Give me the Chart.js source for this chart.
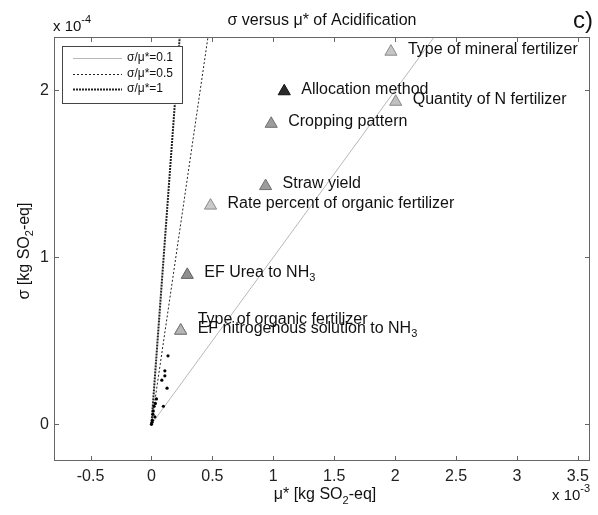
<!DOCTYPE html>
<html><head><meta charset="utf-8">
<script src="https://cdn.jsdelivr.net/npm/chart.js@4/dist/chart.umd.min.js"></script>
<style>html,body{margin:0;padding:0;background:#fff;} #wrap{width:598px;height:515px;}</style>
</head><body><div id="wrap"><canvas id="c" width="598" height="515"></canvas></div>
<script>
// ---- text ----
const TITLE = 'σ versus μ* of Acidification';
const PANEL = 'c)';
const X_TITLE = 'μ* [kg SO{_2}-eq]';
const Y_TITLE = 'σ [kg SO{_2}-eq]';
const X_EXP = 'x 10{^-3}';
const Y_EXP = 'x 10{^-4}';
// ---- axes (x in 1e-3, y in 1e-4 kg SO2-eq) ----
const X_TICKS = [-0.5, 0, 0.5, 1, 1.5, 2, 2.5, 3, 3.5];
const Y_TICKS = [0, 1, 2];
const X_RANGE = [-0.8, 3.6];
const Y_RANGE = [-0.22, 2.32];
// ---- labelled factors ----
const factorNames = [
  'Type of mineral fertilizer',
  'Allocation method',
  'Quantity of N fertilizer',
  'Cropping pattern',
  'Straw yield',
  'Rate percent of organic fertilizer',
  'EF Urea to NH{_3}',
  'Type of organic fertilizer',
  'EF nitrogenous solution to NH{_3}'
];
const factorMu    = [1.966, 1.090, 2.005, 0.983, 0.937, 0.485, 0.294, 0.240, 0.240];
const factorSigma = [2.232, 1.995, 1.932, 1.800, 1.427, 1.310, 0.895, 0.561, 0.561];
// ---- unlabelled factors (small dots) ----
const otherMu    = [0.136, 0.110, 0.110, 0.085, 0.128, 0.041, 0.022, 0.098, 0.028, 0.008, 0.000, 0.015, 0.032, 0.012, 0.005];
const otherSigma = [0.410, 0.320, 0.290, 0.264, 0.216, 0.152, 0.108, 0.108, 0.044, 0.024, 0.000, 0.080, 0.125, 0.060, 0.012];
// ---- reference ratio lines ----
const ratioValues = [0.1, 0.5, 1];
const ratioLabels = ['σ/μ*=0.1', 'σ/μ*=0.5', 'σ/μ*=1'];

// ---- styles ----
const FONT = '"Liberation Sans", Arial, sans-serif';
const factorFill = ['#c6c6c6', '#2a2a2a', '#c0c0c0', '#9c9c9c', '#9c9c9c', '#cacaca', '#8e8e8e', '#b0b0b0', '#b6b6b6'];
const factorEdge = ['#8a8a8a', '#111111', '#8a8a8a', '#707070', '#707070', '#8a8a8a', '#606060', '#777777', '#777777'];
const labelDy    = [0, 0, 0, 0, 0, 0, 0, -9, 0];
const ratioStyle = [
  {color: '#b8b8b8', width: 1, dash: []},
  {color: '#222222', width: 1, dash: [2, 2]},
  {color: '#222222', width: 2, dash: [2, 1]}
];
const MU_TO_SIGMA = 10; // (1e-3 units) -> (1e-4 units)

function drawRich(ctx, text, x, y, size, align) {
  const parts = []; const re = /\{([_^])([^}]*)\}/g; let last = 0, m;
  while ((m = re.exec(text))) {
    if (m.index > last) parts.push({t: text.slice(last, m.index), k: ''});
    parts.push({t: m[2], k: m[1]}); last = re.lastIndex;
  }
  if (last < text.length) parts.push({t: text.slice(last), k: ''});
  let w = 0;
  parts.forEach(p => { p.s = p.k ? Math.round(size * 0.7) : size; ctx.font = p.s + 'px ' + FONT; p.w = ctx.measureText(p.t).width; w += p.w; });
  let cx = align === 'center' ? x - w / 2 : align === 'right' ? x - w : x;
  ctx.textAlign = 'left';
  parts.forEach(p => {
    ctx.font = p.s + 'px ' + FONT;
    const dy = p.k === '_' ? size * 0.32 : p.k === '^' ? -size * 0.55 : 0;
    ctx.fillText(p.t, cx, y + dy); cx += p.w;
  });
}

const decor = {
  id: 'decor',
  afterDatasetsDraw(chart) {
    const ctx = chart.ctx, xs = chart.scales.x, ys = chart.scales.y;
    ctx.save();
    ctx.fillStyle = '#111'; ctx.textBaseline = 'middle';
    factorNames.forEach((n, i) => {
      const px = xs.getPixelForValue(factorMu[i]), py = ys.getPixelForValue(factorSigma[i]);
      drawRich(ctx, n, px + 17, py - 2 + labelDy[i], 16, 'left');
    });
    ctx.restore();
  },
  afterDraw(chart) {
    const ctx = chart.ctx, a = chart.chartArea, xs = chart.scales.x, ys = chart.scales.y;
    ctx.save();
    ctx.strokeStyle = '#666'; ctx.lineWidth = 1; ctx.setLineDash([]);
    ctx.strokeRect(Math.round(a.left) + 0.5, Math.round(a.top) + 0.5, Math.round(a.right - a.left) - 1, Math.round(a.bottom - a.top) - 1);
    ctx.beginPath();
    X_TICKS.forEach(v => { const p = Math.round(xs.getPixelForValue(v)) + 0.5;
      ctx.moveTo(p, a.bottom); ctx.lineTo(p, a.bottom - 5); ctx.moveTo(p, a.top); ctx.lineTo(p, a.top + 5); });
    Y_TICKS.forEach(v => { const p = Math.round(ys.getPixelForValue(v)) + 0.5;
      ctx.moveTo(a.left, p); ctx.lineTo(a.left + 5, p); ctx.moveTo(a.right, p); ctx.lineTo(a.right - 5, p); });
    ctx.stroke();
    // legend
    const L = {x: 62, y: 46, w: 120, h: 57};
    ctx.fillStyle = '#fff'; ctx.fillRect(L.x, L.y, L.w, L.h);
    ctx.strokeStyle = '#444'; ctx.strokeRect(L.x + 0.5, L.y + 0.5, L.w, L.h);
    ratioLabels.forEach((lab, i) => {
      const yy = 58 + i * 15.5, st = ratioStyle[i];
      ctx.strokeStyle = st.color; ctx.lineWidth = st.width; ctx.setLineDash(st.dash);
      ctx.beginPath(); ctx.moveTo(73, Math.round(yy) + 0.5); ctx.lineTo(122, Math.round(yy) + 0.5); ctx.stroke();
      ctx.setLineDash([]);
      ctx.fillStyle = '#111'; ctx.textBaseline = 'middle'; ctx.font = '12px ' + FONT; ctx.textAlign = 'left';
      ctx.fillText(lab, 127, yy);
    });
    // titles
    ctx.fillStyle = '#111'; ctx.textBaseline = 'alphabetic';
    drawRich(ctx, TITLE, (a.left + a.right) / 2, 25, 16, 'center');
    ctx.font = '24px ' + FONT; ctx.textAlign = 'right'; ctx.fillText(PANEL, 593, 28);
    drawRich(ctx, Y_EXP, 53, 31, 15, 'left');
    drawRich(ctx, X_EXP, 552, 500, 15, 'left');
    drawRich(ctx, X_TITLE, (a.left + a.right) / 2 + 3, 499, 16, 'center');
    ctx.save(); ctx.translate(25, 251); ctx.rotate(-Math.PI / 2); ctx.textBaseline = 'middle';
    drawRich(ctx, Y_TITLE, 0, 0, 16, 'center'); ctx.restore();
    ctx.restore();
  }
};

const datasets = [];
ratioValues.forEach((r, i) => {
  datasets.push({
    label: ratioLabels[i], showLine: true, pointRadius: 0, order: 3,
    borderColor: ratioStyle[i].color, borderWidth: ratioStyle[i].width, borderDash: ratioStyle[i].dash,
    data: [{x: 0, y: 0}, {x: 4, y: r * 4 * MU_TO_SIGMA}]
  });
});
datasets.push({
  label: 'others', order: 2, pointStyle: 'circle', pointRadius: 1.6,
  backgroundColor: '#000', borderColor: '#000', borderWidth: 0,
  data: otherMu.map((v, i) => ({x: v, y: otherSigma[i]}))
});
datasets.push({
  label: 'factors', order: 1, pointStyle: 'triangle', pointRadius: 7,
  pointBackgroundColor: factorFill, pointBorderColor: factorEdge, pointBorderWidth: 1,
  data: factorMu.map((v, i) => ({x: v, y: factorSigma[i]}))
});

new Chart(document.getElementById('c'), {
  type: 'scatter',
  data: {datasets},
  options: {
    responsive: false, animation: false, devicePixelRatio: 1,
    layout: {padding: {top: 37, right: 5, left: 0, bottom: 0}},
    plugins: {legend: {display: false}, tooltip: {enabled: false}},
    scales: {
      x: {
        type: 'linear', min: X_RANGE[0], max: X_RANGE[1],
        afterBuildTicks: s => { s.ticks = X_TICKS.map(v => ({value: v})); },
        afterFit: s => { s.height = 54; s.paddingLeft = 0; s.paddingRight = 0; },
        grid: {display: false, drawTicks: false, tickLength: 0}, border: {display: false},
        ticks: {color: '#222', padding: 6, font: {family: FONT, size: 16}, maxRotation: 0, autoSkip: false,
                callback: v => String(v)}
      },
      y: {
        type: 'linear', min: Y_RANGE[0], max: Y_RANGE[1],
        afterBuildTicks: s => { s.ticks = Y_TICKS.map(v => ({value: v})); },
        afterFit: s => { s.width = 54; s.paddingTop = 0; s.paddingBottom = 0; },
        grid: {display: false, drawTicks: false, tickLength: 0}, border: {display: false},
        ticks: {color: '#222', padding: 5, font: {family: FONT, size: 16}, autoSkip: false,
                callback: v => String(v)}
      }
    }
  },
  plugins: [decor]
});
</script></body></html>
